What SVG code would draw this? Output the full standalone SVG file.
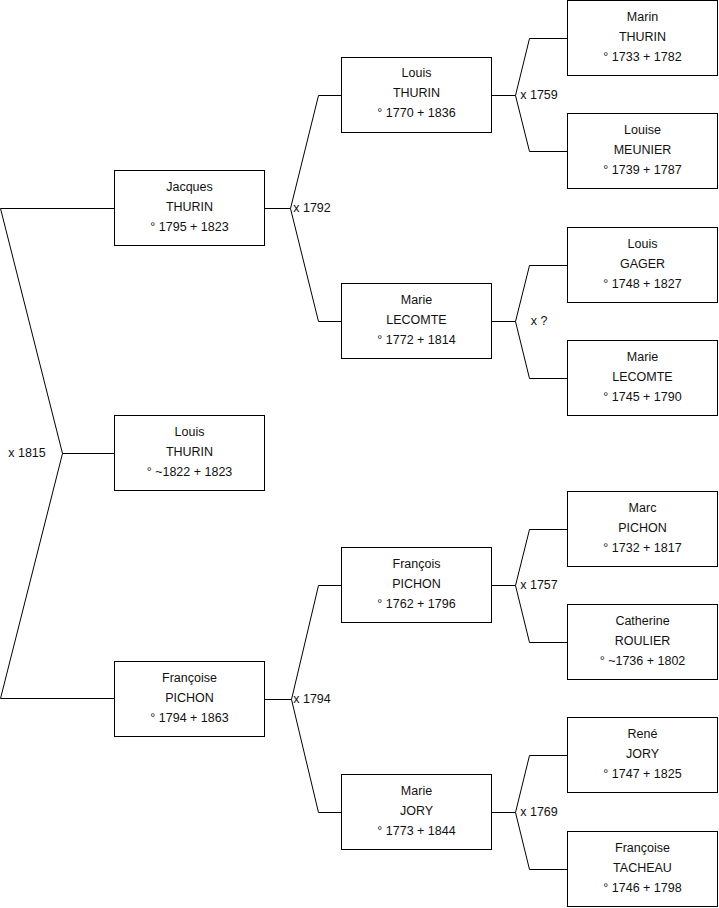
<svg xmlns="http://www.w3.org/2000/svg" width="719" height="908" viewBox="0 0 719 908">
<style>
.box{fill:#fff;stroke:#000;stroke-width:1}
.t{font-family:"Liberation Sans",Arial,sans-serif;font-size:12.5px;fill:#111;text-anchor:middle}
.c{fill:none;stroke:#000;stroke-width:1}
</style>
<rect width="719" height="908" fill="#fff"/>
<g id="connectors">
<path class="c" d="M0.5,208.5 H114.5 M0.5,208.5 L62.5,453.5 L0.5,698.5 H114.5 M62.5,453.5 H114.5"/>
<path class="c" d="M264.5,208.5 H290.5 L318.5,95.5 H341.5 M290.5,208.5 L318.5,321.5 H341.5"/>
<path class="c" d="M264.5,699.5 H291.5 L318.5,585.5 H341.5 M291.5,699.5 L318.5,812.5 H341.5"/>
<path class="c" d="M491.5,95.5 H515.5 L529.5,38.5 H567.5 M515.5,95.5 L529.5,151.5 H567.5"/>
<path class="c" d="M491.5,321.5 H515.5 L529.5,265.5 H567.5 M515.5,321.5 L529.5,378.5 H567.5"/>
<path class="c" d="M491.5,585.5 H515.5 L529.5,529.5 H567.5 M515.5,585.5 L529.5,642.5 H567.5"/>
<path class="c" d="M491.5,812.5 H515.5 L529.5,755.5 H567.5 M515.5,812.5 L529.5,869.5 H567.5"/>
<text class="t" x="27" y="457">x 1815</text>
<text class="t" x="312" y="212">x 1792</text>
<text class="t" x="312" y="703">x 1794</text>
<text class="t" x="539" y="99">x 1759</text>
<text class="t" x="539" y="325">x ?</text>
<text class="t" x="539" y="589">x 1757</text>
<text class="t" x="539" y="816">x 1769</text>
</g>
<g id="jacques-thurin"><rect class="box" x="114.5" y="170.5" width="150" height="75"/><text class="t" x="189.5" y="191">Jacques</text><text class="t" x="189.5" y="211">THURIN</text><text class="t" x="189.5" y="231">° 1795 + 1823</text></g>
<g id="louis-thurin-1822"><rect class="box" x="114.5" y="415.5" width="150" height="75"/><text class="t" x="189.5" y="436">Louis</text><text class="t" x="189.5" y="456">THURIN</text><text class="t" x="189.5" y="476">° ~1822 + 1823</text></g>
<g id="francoise-pichon"><rect class="box" x="114.5" y="661.5" width="150" height="75"/><text class="t" x="189.5" y="682">Françoise</text><text class="t" x="189.5" y="702">PICHON</text><text class="t" x="189.5" y="722">° 1794 + 1863</text></g>
<g id="louis-thurin-1770"><rect class="box" x="341.5" y="57.5" width="150" height="75"/><text class="t" x="416.5" y="77">Louis</text><text class="t" x="416.5" y="97">THURIN</text><text class="t" x="416.5" y="117">° 1770 + 1836</text></g>
<g id="marie-lecomte-1772"><rect class="box" x="341.5" y="283.5" width="150" height="75"/><text class="t" x="416.5" y="304">Marie</text><text class="t" x="416.5" y="324">LECOMTE</text><text class="t" x="416.5" y="344">° 1772 + 1814</text></g>
<g id="francois-pichon"><rect class="box" x="341.5" y="547.5" width="150" height="75"/><text class="t" x="416.5" y="568">François</text><text class="t" x="416.5" y="588">PICHON</text><text class="t" x="416.5" y="608">° 1762 + 1796</text></g>
<g id="marie-jory"><rect class="box" x="341.5" y="774.5" width="150" height="75"/><text class="t" x="416.5" y="795">Marie</text><text class="t" x="416.5" y="815">JORY</text><text class="t" x="416.5" y="835">° 1773 + 1844</text></g>
<g id="marin-thurin"><rect class="box" x="567.5" y="0.5" width="150" height="75"/><text class="t" x="642.5" y="21">Marin</text><text class="t" x="642.5" y="41">THURIN</text><text class="t" x="642.5" y="61">° 1733 + 1782</text></g>
<g id="louise-meunier"><rect class="box" x="567.5" y="113.5" width="150" height="75"/><text class="t" x="642.5" y="134">Louise</text><text class="t" x="642.5" y="154">MEUNIER</text><text class="t" x="642.5" y="174">° 1739 + 1787</text></g>
<g id="louis-gager"><rect class="box" x="567.5" y="227.5" width="150" height="75"/><text class="t" x="642.5" y="248">Louis</text><text class="t" x="642.5" y="268">GAGER</text><text class="t" x="642.5" y="288">° 1748 + 1827</text></g>
<g id="marie-lecomte-1745"><rect class="box" x="567.5" y="340.5" width="150" height="75"/><text class="t" x="642.5" y="361">Marie</text><text class="t" x="642.5" y="381">LECOMTE</text><text class="t" x="642.5" y="401">° 1745 + 1790</text></g>
<g id="marc-pichon"><rect class="box" x="567.5" y="491.5" width="150" height="75"/><text class="t" x="642.5" y="512">Marc</text><text class="t" x="642.5" y="532">PICHON</text><text class="t" x="642.5" y="552">° 1732 + 1817</text></g>
<g id="catherine-roulier"><rect class="box" x="567.5" y="604.5" width="150" height="75"/><text class="t" x="642.5" y="625">Catherine</text><text class="t" x="642.5" y="645">ROULIER</text><text class="t" x="642.5" y="665">° ~1736 + 1802</text></g>
<g id="rene-jory"><rect class="box" x="567.5" y="717.5" width="150" height="75"/><text class="t" x="642.5" y="738">René</text><text class="t" x="642.5" y="758">JORY</text><text class="t" x="642.5" y="778">° 1747 + 1825</text></g>
<g id="francoise-tacheau"><rect class="box" x="567.5" y="831.5" width="150" height="75"/><text class="t" x="642.5" y="852">Françoise</text><text class="t" x="642.5" y="872">TACHEAU</text><text class="t" x="642.5" y="892">° 1746 + 1798</text></g>
</svg>
